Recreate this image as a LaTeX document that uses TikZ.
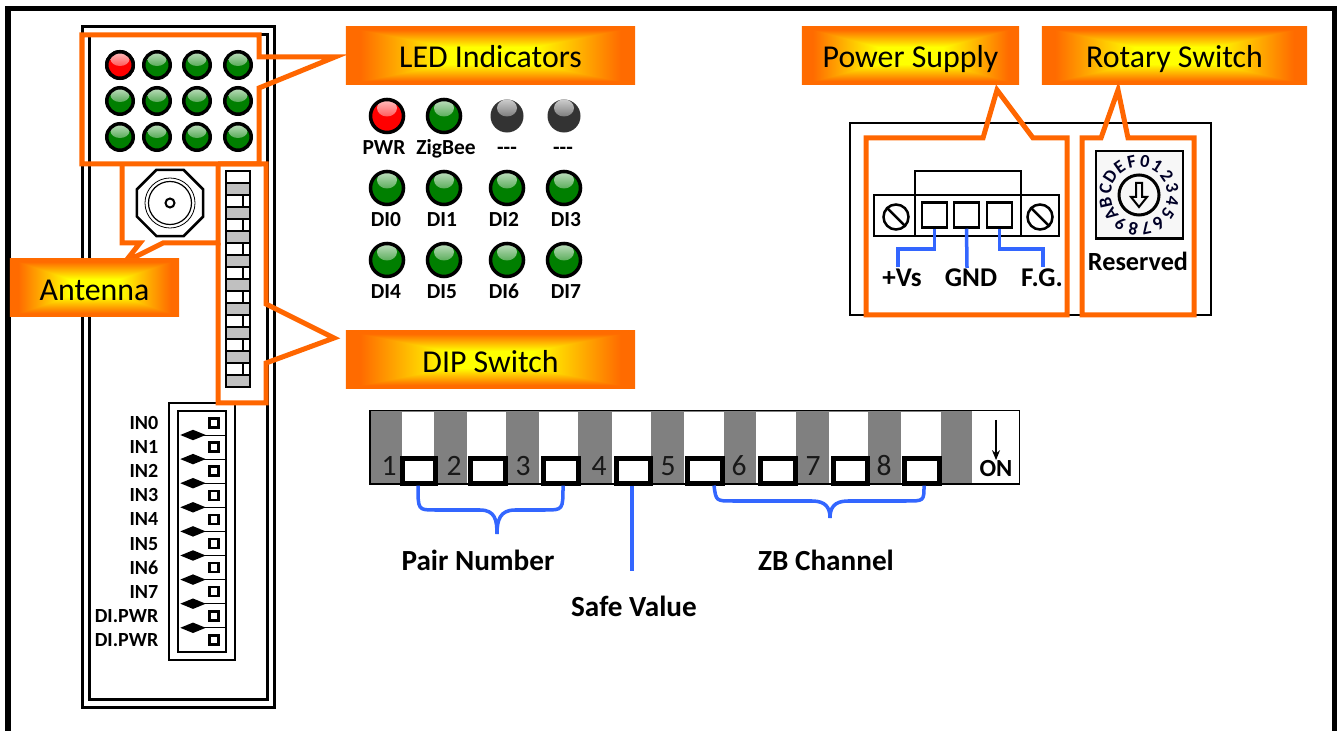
\documentclass[tikz,border=0pt]{standalone}
\usepackage{fontspec}
\setmainfont{Carlito}
\usetikzlibrary{positioning,calc,shapes.geometric,arrows.meta}
\definecolor{calloutorange}{HTML}{FF6600}
\definecolor{wireblue}{HTML}{3366FF}
\definecolor{lampgreen}{HTML}{007F00}
\definecolor{dipgray}{HTML}{808080}
\definecolor{cellgray}{HTML}{C0C0C0}
\pgfdeclarefunctionalshading{labelglow}{\pgfpoint{-50bp}{-50bp}}{\pgfpoint{50bp}{50bp}}{}{
  abs exch abs 2 copy gt {pop} {exch pop} ifelse 25 div
  0.3 sub 0.6 div dup 0 lt {pop 0} if dup 1 gt {pop 1} if
  0.58 mul 1 exch sub 1 exch 0
}
\tikzset{
  callout/.style={draw=calloutorange,line width=.05cm,miter limit=10},
  tag/.style={shading=labelglow,minimum height=.57cm,inner sep=0pt,text height=.25cm,text depth=0cm,font=\fontsize{9.05pt}{10pt}\selectfont},
  lamp/.style={circle,draw=black,line width=.035cm,inner sep=0pt,fill=#1},
  smalllamp/.style={lamp=#1,minimum size=.265cm,path picture={\shade[top color=white!75!#1,bottom color=#1]
    ($(path picture bounding box.center)+(0cm,.06cm)$) ellipse [x radius=.095cm,y radius=.07cm];}},
  biglamp/.style={lamp=#1,minimum size=.33cm,path picture={\shade[top color=white!75!#1,bottom color=#1]
    ($(path picture bounding box.center)+(0cm,.08cm)$) ellipse [x radius=.1cm,y radius=.085cm];}},
  boldlbl/.style={font=\fontsize{6.1pt}{7pt}\selectfont\bfseries,inner sep=0pt,text height=.15cm,text depth=0cm},
  sidelbl/.style={font=\fontsize{5.7pt}{7pt}\selectfont\bfseries,inner sep=0pt,anchor=east,text height=.13cm,text depth=0cm},
  midlbl/.style={font=\fontsize{8.3pt}{9pt}\selectfont\bfseries,inner sep=0pt},
  termlbl/.style={font=\fontsize{7.7pt}{9pt}\selectfont\bfseries,inner sep=0pt},
  wire/.style={draw=wireblue,line width=.035cm},
  sqbox/.style={draw=black,line width=.025cm,minimum size=#1,inner sep=0pt},
}
\begin{document}
\begin{tikzpicture}[x=.01cm,y=-.01cm]
  \useasboundingbox (0,0) rectangle (1340,731);
  \fill[white] (0,0) rectangle (1340,731);
  \draw[line width=.05cm] (8,8.5) rectangle (1334,760);

  % module outline
  \draw[line width=.03cm] (82,27) rectangle (274,707)
                          (89,35) rectangle (267,699);
  \foreach \cx/\lx in {120/1,157/2,197/3,238/4}
    \foreach \cy/\ly in {65/1,101/2,137/3}
      \node[smalllamp=lampgreen] (top\lx\ly) at (\cx,\cy) {};
  \node[smalllamp=red] (top11) at (120,65) {};

  % antenna
  \node[regular polygon,regular polygon sides=8,draw,line width=.025cm,minimum size=.715cm,inner sep=0pt] (ant) at (170,203) {};
  \node[circle,draw,line width=.008cm,minimum size=.5cm,inner sep=0pt] (antouter) at (ant.center) {};
  \node[circle,draw,line width=.012cm,minimum size=.43cm,inner sep=0pt] (antinner) at (ant.center) {};
  \node[circle,draw,line width=.02cm,minimum size=.09cm,inner sep=0pt] (antpin) at (ant.center) {};

  % small dip column
  \draw[line width=.012cm,fill=white] (226,171) rectangle (250,387);
  \foreach \k in {0,...,8} {
    \draw[line width=.012cm,fill=cellgray] (226,183+24*\k) rectangle (250,195+24*\k);
  }
  \foreach \k in {1,...,8} {
    \draw[line width=.012cm] (243,171+24*\k) -- (243,183+24*\k);
  }

  % io connector
  \draw[line width=.025cm] (169,403) rectangle (235,660);
  \draw[line width=.025cm] (178,411) rectangle (226,652);
  \foreach \k/\txt in {0/IN0,1/IN1,2/IN2,3/IN3,4/IN4,5/IN5,6/IN6,7/IN7,8/DI.PWR,9/DI.PWR} {
    \node[sqbox=.09cm] (pin\k) at (214,423+24.1*\k) {};
    \node[sidelbl] (pinlbl\k) at (159,423+24.1*\k) {\txt};
  }
  \foreach \k in {0,...,8} {
    \node[diamond,fill=black,inner sep=0pt,minimum width=.26cm,minimum height=.11cm] (tick\k) at (193,435+24.1*\k) {};
    \draw[line width=.008cm] (tick\k.center) -- (226,435+24.1*\k);
  }

  % callouts on the module
  \draw[callout] (82,35) -- (259,35) -- (259,57) -- (335,57) -- (259,88) -- (259,164) -- (82,164) -- cycle;
  \draw[callout] (122,164) -- (122,243) -- (140,243) -- (125,262) -- (163,243) -- (218,243) -- (218,164);
  \draw[callout] (218,243) -- (218,403) -- (266,403) -- (266,363) -- (334,338) -- (266,304) -- (266,164) -- (218,164);

  \node[tag,minimum width=1.69cm] (antenna) at (94.5,287.5) {Antenna};
  \node[tag,minimum width=2.89cm] (ledtag) at (490.5,55.5) {LED Indicators};
  \node[tag,minimum width=2.89cm] (diptag) at (490.5,359.5) {DIP Switch};
  \node[tag,minimum width=2.17cm] (powertag) at (910.5,55.5) {Power Supply};
  \node[tag,minimum width=2.65cm] (rotarytag) at (1174.5,55.5) {Rotary Switch};

  % led table
  \foreach \lx/\lbl/\nx in {1/PWR/384,2/ZigBee/446,3/{-{}-{}-}/507,4/{-{}-{}-}/563} {
    \node[boldlbl] (ledlbl\lx) at (\nx,147) {\lbl};
  }
  \node[biglamp=red] (led1) at (387,116) {};
  \node[biglamp=lampgreen] (led2) at (444,116) {};
  \node[biglamp=black!80,draw=none] (led3) at (507,116) {};
  \node[biglamp=black!80,draw=none] (led4) at (564,116) {};
  \foreach \k/\cx/\nx in {0/387/386,1/444/442,2/507/504,3/564/566} {
    \node[biglamp=lampgreen] (di\k) at (\cx,188) {};
    \node[boldlbl] (dilbl\k) at (\nx,219) {DI\k};
  }
  \foreach \k/\cx/\nx in {4/387/386,5/444/442,6/507/504,7/564/566} {
    \node[biglamp=lampgreen] (di\k) at (\cx,260) {};
    \node[boldlbl] (dilbl\k) at (\nx,291) {DI\k};
  }

  % big dip switch
  \fill[dipgray] (370,410) rectangle (972,484);
  \foreach \xa/\xb in {402/434,467/506,539/578,612/651,684/724,756/796,829/868,901/941} {
    \fill[white] (\xa,412) rectangle (\xb,484);
  }
  \draw[line width=.015cm] (370,410.5) rectangle (1019,484);
  \fill[white] (972,411) rectangle (1018.5,483.5);
  \foreach \k/\nx in {1/389,2/454,3/523,4/599,5/668,6/739,7/813,8/884} {
    \node[font=\fontsize{8.4pt}{10pt}\selectfont,text=black!90,inner sep=0pt] (num\k) at (\nx,466) {\k};
  }
  \foreach \k/\xa/\xw in {1/419/.32cm,2/488/.35cm,3/561/.35cm,4/633/.34cm,5/705/.35cm,6/778/.35cm,7/850/.34cm,8/922/.35cm} {
    \node[draw=black,line width=.05cm,fill=white,minimum width=\xw,minimum height=.24cm,inner sep=0pt] (slide\k) at (\xa,471) {};
  }
  \node[font=\fontsize{7pt}{8pt}\selectfont\bfseries,inner sep=0pt] (onlbl) at (996,469) {ON};
  \coordinate (ontop) at (996,420);
  \draw[-{Stealth[length=.1cm,width=.08cm]},line width=.014cm] (ontop) -- (onlbl.north);

  % braces
  \node[midlbl] (pairlbl) at (478,560) {Pair Number};
  \node[midlbl] (safelbl) at (634,606) {Safe Value};
  \node[midlbl] (zblbl) at (826,560) {ZB Channel};
  \coordinate (pairtip) at (497,534);
  \coordinate (zbtip) at (830,518);
  \coordinate (safeend) at (632,571);
  \draw[wire] (slide1.south) ++(-1,0) .. controls (418,510) and (418,510) .. (435,510) -- (480,510)
    .. controls (495,510) and (497,520) .. (pairtip);
  \draw[wire] (slide3.south) ++(2,0) .. controls (563,510) and (563,510) .. (545,510) -- (515,510)
    .. controls (500,510) and (497,520) .. (pairtip);
  \draw[wire] (slide5.south) ++(9,0) .. controls (716,501) and (716,501) .. (733,501) -- (812,501)
    .. controls (826,501) and (830,508) .. (zbtip);
  \draw[wire] (slide8.south) ++(2,0) .. controls (924,501) and (924,501) .. (906,501) -- (848,501)
    .. controls (834,501) and (830,508) .. (zbtip);
  \draw[wire] (slide4.south) ++(-1,0) -- (safeend);

  % power panel
  \draw[line width=.025cm] (850,123) rectangle (1211,315);
  \draw[line width=.025cm] (874,195) rectangle (1059,236);
  \draw[line width=.025cm] (915,171) rectangle (1021,236);
  \foreach \k/\cx in {1/934.5,2/966.5,3/999.5} {
    \node[sqbox=.25cm] (term\k) at (\cx,215) {};
  }
  \foreach \k/\cx in {1/896,2/1040} {
    \node[circle,draw,line width=.025cm,minimum size=.25cm,inner sep=0pt] (screw\k) at (\cx,217) {};
    \draw[line width=.025cm] (screw\k.north west) -- (screw\k.south east);
  }
  \node[termlbl] (vslbl) at (902,278) {+Vs};
  \node[termlbl] (gndlbl) at (971,278) {GND};
  \node[termlbl] (fglbl) at (1042,278) {F.G.};
  \coordinate (vsend) at (898,267);
  \coordinate (gndend) at (967,268);
  \coordinate (fgend) at (1043,267);
  \draw[wire] (term1.south) -- ++(0,20) -| (vsend);
  \draw[wire] (term2.south) -- (gndend);
  \draw[wire] (term3.south) -- ++(0,20) -| (fgend);

  % rotary dial
  \draw[line width=.015cm,fill=black!3] (1096,151) rectangle (1183,239);
  \draw[line width=.03cm] (1096,239) -- (1183,239);
  \node[circle,draw,line width=.03cm,minimum size=.4cm,inner sep=0pt] (dial) at (1139,195) {};
  \foreach \k/\ch in {0/0,1/1,2/2,3/3,4/4,5/5,6/6,7/7,8/8,9/9,10/A,11/B,12/C,13/D,14/E,15/F} {
    \node[font=\fontsize{5.2pt}{6pt}\selectfont\bfseries,text=black!85!blue,inner sep=0pt,rotate=-10-22.5*\k] (dig\k) at ($(dial.center)+({80-22.5*\k}:.34cm)$) {\ch};
  }
  \draw[line width=.02cm] (1136,183) -- (1136,197) -- (1131,197) -- (1139,207) -- (1147,197) -- (1142,197) -- (1142,183) -- cycle;
  \node[font=\fontsize{7.45pt}{8pt}\selectfont\bfseries,inner sep=0pt] (reslbl) at (1138,261) {Reserved};

  % callouts on the panel
  \draw[callout] (866,138) -- (983,138) -- (997,90) -- (1033,138) -- (1067,138) -- (1067,315) -- (866,315) -- cycle;
  \draw[callout] (1082,138) -- (1101,138) -- (1118,90) -- (1128,138) -- (1194,138) -- (1194,315) -- (1082,315) -- cycle;
\end{tikzpicture}
\end{document}
